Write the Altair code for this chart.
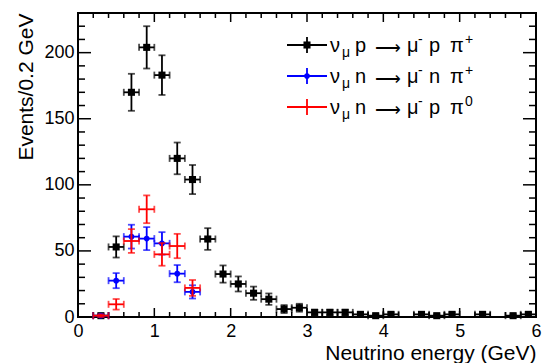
import altair as alt
import pandas as pd

# ---------------- data ----------------
x_black = [0.3, 0.5, 0.7, 0.9, 1.1, 1.3, 1.5, 1.7, 1.9, 2.1, 2.3, 2.5, 2.7, 2.9,
           3.1, 3.3, 3.5, 3.7, 3.9, 4.1, 4.5, 4.7, 4.9, 5.3, 5.7, 5.9]
y_black = [1, 53, 170, 204, 183, 120, 104, 59, 32.5, 25, 18, 13.5, 6, 7,
           3.5, 3.5, 3.5, 2, 1, 2, 2, 1, 2, 2, 1, 2]
e_black = [1, 8, 14, 16, 15, 12, 11, 8.2, 6.5, 5.7, 5, 4.3, 3, 3,
           2, 2, 2, 1.5, 1, 1.5, 1.5, 1, 1.5, 1.5, 1, 1.5]

x_blue = [0.3, 0.5, 0.7, 0.9, 1.1, 1.3, 1.5]
y_blue = [1, 27.5, 60.8, 59.3, 55.7, 32.8, 19]
e_blue = [1, 5.7, 9, 8.7, 8.5, 6.5, 5]

x_red = [0.3, 0.5, 0.7, 0.9, 1.1, 1.3, 1.5]
y_red = [1, 9.6, 57.5, 81.5, 47.4, 53.7, 22]
e_red = [1, 4, 9, 10.5, 8.6, 9.2, 6]

x_halfwidth = 0.1

x_tick_labels = [0, 1, 2, 3, 4, 5, 6]
y_tick_labels = [0, 50, 100, 150, 200]
x_minor = [round(0.2 * i, 1) for i in range(31)]
y_minor = list(range(0, 231, 10))

x_title = "Neutrino energy (GeV)"
y_title = "Events/0.2 GeV"

leg_colors = ["black", "#0000ff", "#ff0000"]
leg_shapes = ["square", "circle", None]
leg_pieces = [
    [("ν", "m"), ("μ", "s"), ("p", "m"), ("⟶", "a"), ("μ", "m"), ("-", "u"), ("p", "m"), ("π", "m"), ("+", "u")],
    [("ν", "m"), ("μ", "s"), ("n", "m"), ("⟶", "a"), ("μ", "m"), ("-", "u"), ("n", "m"), ("π", "m"), ("+", "u")],
    [("ν", "m"), ("μ", "s"), ("n", "m"), ("⟶", "a"), ("μ", "m"), ("-", "u"), ("p", "m"), ("π", "m"), ("0", "u")],
]
leg_offsets = [0, 12, 25, 45, 77, 88, 99, 120, 135]

# ---------------- layout ----------------
W, H = 458, 304
FONT = "Liberation Sans"
LW = 1.8

xs = alt.Scale(domain=[0, 6], nice=False, zero=False)
ys = alt.Scale(domain=[0, 230], nice=False, zero=False)

XAXIS = alt.Axis(
    values=x_tick_labels, format="d", ticks=False, domain=False, grid=False,
    labelFont=FONT, labelFontSize=18, labelColor="black", labelPadding=5,
    labelFlush=False, labelOverlap=False,
    title=x_title, titleFont=FONT, titleFontSize=21, titleFontWeight="normal",
    titleColor="black", titleAlign="right", titleX=W, titleY=42,
    titleBaseline="alphabetic")
YAXIS = alt.Axis(
    values=y_tick_labels, format="d", ticks=False, domain=False, grid=False,
    labelFont=FONT, labelFontSize=18, labelColor="black", labelPadding=4,
    labelFlush=False, labelOverlap=False,
    title=y_title, titleFont=FONT, titleFontSize=21, titleFontWeight="normal",
    titleColor="black", titleAngle=270, titleAlign="right", titleX=-46, titleY=0,
    titleBaseline="alphabetic")


def make_df(x, y, e):
    return pd.DataFrame({
        "x": x, "y": y,
        "xlo": [v - x_halfwidth for v in x], "xhi": [v + x_halfwidth for v in x],
        "ylo": [max(0, a - b) for a, b in zip(y, e)], "yhi": [a + b for a, b in zip(y, e)],
    })


def X(f):
    return alt.X(f + ":Q", scale=xs, axis=XAXIS)


def Y(f):
    return alt.Y(f + ":Q", scale=ys, axis=YAXIS)


def series_layers(df, color, shape, size):
    base = alt.Chart(df)
    layers = [
        base.mark_rule(color=color, strokeWidth=LW).encode(x=X("x"), y=Y("ylo"), y2="yhi:Q"),
        base.mark_rule(color=color, strokeWidth=LW).encode(x=X("xlo"), x2="xhi:Q", y=Y("y")),
        base.mark_tick(color=color, orient="horizontal", size=7, thickness=LW).encode(x=X("x"), y=Y("ylo")),
        base.mark_tick(color=color, orient="horizontal", size=7, thickness=LW).encode(x=X("x"), y=Y("yhi")),
        base.mark_tick(color=color, orient="vertical", size=7, thickness=LW).encode(x=X("xlo"), y=Y("y")),
        base.mark_tick(color=color, orient="vertical", size=7, thickness=LW).encode(x=X("xhi"), y=Y("y")),
    ]
    if shape:
        layers.append(base.mark_point(shape=shape, filled=True, size=size, color=color, opacity=1)
                      .encode(x=X("x"), y=Y("y")))
    return layers


axis_df = pd.DataFrame({"x": [0, 6], "y": [0, 230]})
axes = alt.Chart(axis_df).mark_point(opacity=0).encode(x=X("x"), y=Y("y"))

# inward ticks on all four sides
xmaj = pd.DataFrame({"v": x_tick_labels})
xmin = pd.DataFrame({"v": [v for v in x_minor if abs(v - round(v)) > 1e-6]})
ymaj = pd.DataFrame({"v": y_tick_labels})
ymin = pd.DataFrame({"v": [v for v in y_minor if v % 50 != 0]})

tick_layers = []
for df, L in [(xmaj, 9), (xmin, 5)]:
    tick_layers.append(alt.Chart(df).mark_rule(color="black", strokeWidth=1.5).encode(
        x=X("v"), y=alt.value(H), y2=alt.value(H - L)))
    tick_layers.append(alt.Chart(df).mark_rule(color="black", strokeWidth=1.5).encode(
        x=X("v"), y=alt.value(0), y2=alt.value(L)))
for df, L in [(ymaj, 13), (ymin, 7)]:
    tick_layers.append(alt.Chart(df).mark_rule(color="black", strokeWidth=1.5).encode(
        y=Y("v"), x=alt.value(0), x2=alt.value(L)))
    tick_layers.append(alt.Chart(df).mark_rule(color="black", strokeWidth=1.5).encode(
        y=Y("v"), x=alt.value(W), x2=alt.value(W - L)))

data_layer = alt.layer(
    axes, *tick_layers,
    *series_layers(make_df(x_black, y_black, e_black), leg_colors[0], leg_shapes[0], 50),
    *series_layers(make_df(x_blue, y_blue, e_blue), leg_colors[1], leg_shapes[1], 32),
    *series_layers(make_df(x_red, y_red, e_red), leg_colors[2], leg_shapes[2], 32),
)

# ---------------- legend (pixel positions) ----------------
row_y = [32, 63, 94]
line_x0, line_x1, line_xc, text_x0 = 209, 249, 229, 252
one = pd.DataFrame({"a": [0]})
leg_layers = []
for i, (c, s) in enumerate(zip(leg_colors, leg_shapes)):
    ry = row_y[i]
    leg_layers.append(alt.Chart(one).mark_rule(color=c, strokeWidth=LW).encode(
        x=alt.value(line_x0), x2=alt.value(line_x1), y=alt.value(ry)))
    leg_layers.append(alt.Chart(one).mark_rule(color=c, strokeWidth=LW).encode(
        x=alt.value(line_xc), y=alt.value(ry - 8), y2=alt.value(ry + 8)))
    if s:
        leg_layers.append(alt.Chart(one).mark_point(shape=s, filled=True, color=c, opacity=1,
                                                    size=50 if s == "square" else 32).encode(
            x=alt.value(line_xc), y=alt.value(ry)))

rows = []
for i, pieces in enumerate(leg_pieces):
    ry = row_y[i]
    for (t, k), off in zip(pieces, leg_offsets):
        if k == "m":
            fs, by = 20, ry + 7
        elif k == "a":
            fs, by = 18, ry + 9
        elif k == "s":
            fs, by = 14, ry + 12
        else:
            fs, by = 14, ry - 1
        rows.append({"t": t, "px": text_x0 + off, "py": by, "fs": fs})
leg_text_df = pd.DataFrame(rows)
leg_layers.append(alt.Chart(leg_text_df).mark_text(
    align="left", baseline="alphabetic", font=FONT, color="black").encode(
    x=alt.X("px:Q", scale=None, axis=None),
    y=alt.Y("py:Q", scale=None, axis=None),
    size=alt.Size("fs:Q", scale=None, legend=None),
    text="t:N"))

legend_layer = alt.layer(*leg_layers)

chart = alt.layer(data_layer, legend_layer).resolve_scale(
    x="independent", y="independent", size="independent"
).properties(
    width=W, height=H,
    autosize=alt.AutoSizeParams(type="none"),
    padding={"left": 78, "top": 13, "right": 8, "bottom": 46},
    background="white",
).configure_view(stroke="black", strokeWidth=2)

chart.save("out.html", embed_options={"renderer": "svg", "actions": False})
